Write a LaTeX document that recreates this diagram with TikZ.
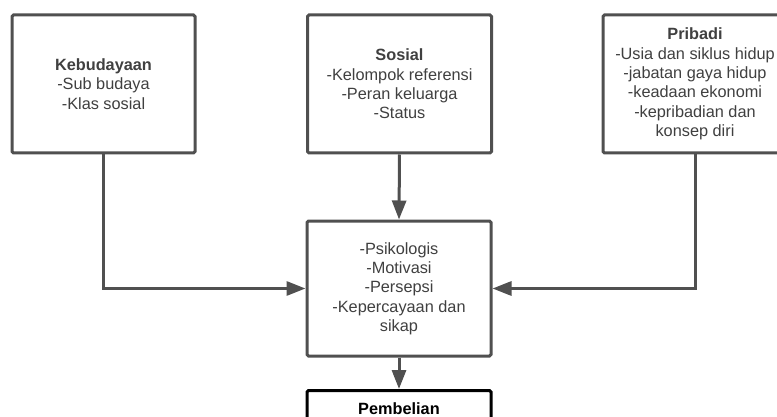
\documentclass[tikz,border=0pt]{standalone}
\usepackage{fontspec}
\setmainfont{Liberation Sans}
\usetikzlibrary{arrows.meta}
\definecolor{lc}{HTML}{505050}
\definecolor{tc}{HTML}{404040}
\begin{document}
\begin{tikzpicture}[x=1pt,y=-1pt,
  box/.style={draw=lc, line width=3pt, rounded corners=1.5pt, fill=white,
    minimum width=184pt, inner sep=0pt, align=center, text=tc,
    font=\fontsize{16.3}{19.3}\selectfont},
  conn/.style={draw=lc, line width=3pt, -{Triangle[length=19pt,width=14pt]}}]
\useasboundingbox (0,0) rectangle (777,417);
\clip (0,0) rectangle (777,417);
\fill[white] (0,0) rectangle (777,417);
\node[box, minimum width=183pt, minimum height=138pt] (k) at (103.5,84)
  {\textbf{Kebudayaan}\\-Sub budaya\\-Klas sosial};
\node[box, minimum height=138pt] (s) at (399.5,84)
  {\textbf{Sosial}\\-Kelompok referensi\\-Peran keluarga\\-Status};
\node[box, minimum height=138pt] (p) at (695,84)
  {\textbf{Pribadi}\\-Usia dan siklus hidup\\-jabatan gaya hidup\\-keadaan ekonomi\\-kepribadian dan\\konsep diri};
\node[box, minimum height=135pt] (m) at (399,288.5)
  {-Psikologis\\-Motivasi\\-Persepsi\\-Kepercayaan dan\\sikap};
\node[box, draw=black, text=black, minimum height=40pt, anchor=north] (b) at (399,389)
  {\raisebox{4pt}{\textbf{Pembelian}}};
\draw[conn] (k.south) |- (m.west);
\draw[conn] (p.south) |- (m.east);
\draw[conn] (s.south) -- (m.north);
\draw[conn] (m.south) -- (b.north);
\end{tikzpicture}
\end{document}
